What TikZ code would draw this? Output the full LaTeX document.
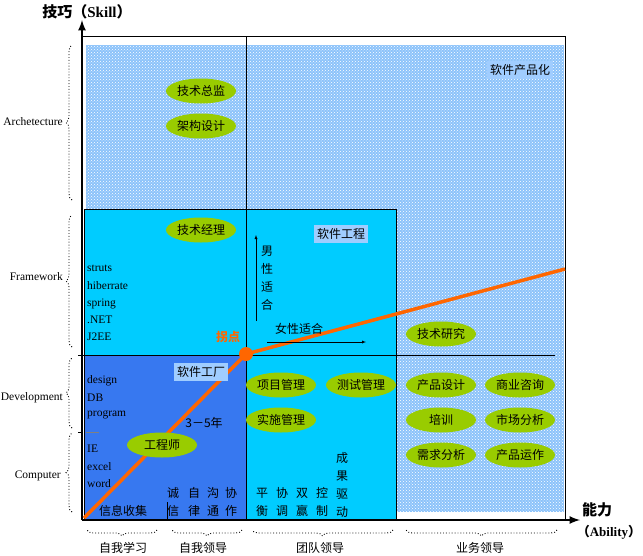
\documentclass[tikz,border=0pt]{standalone}
\usepackage{fontspec}
\setmainfont{Liberation Serif}
\newfontfamily\cjk{Noto Sans CJK SC}
\usetikzlibrary{patterns,shapes.geometric,decorations.pathreplacing}
\definecolor{skyfill}{RGB}{140,195,250}
\definecolor{cyanfill}{RGB}{0,204,255}
\definecolor{deepfill}{RGB}{55,120,240}
\definecolor{leaf}{RGB}{153,204,0}
\definecolor{turnorange}{RGB}{255,102,0}
\definecolor{tagfill}{RGB}{160,205,255}
\begin{document}
\begin{tikzpicture}[x=1pt,y=-1pt,
  role/.style={ellipse,fill=leaf,minimum width=70pt,minimum height=25pt,inner sep=0pt,font=\cjk\fontsize{12}{12}\selectfont},
  tag/.style={fill=tagfill,minimum height=16pt,inner sep=3pt,font=\cjk\fontsize{12}{12}\selectfont},
  word/.style={anchor=west,inner sep=0pt,font=\fontsize{11.5}{11.5}\selectfont},
  han/.style={inner sep=0pt,align=center,font=\cjk\fontsize{12}{18}\selectfont},
  level/.style={anchor=east,inner sep=0pt,font=\fontsize{11.5}{11.5}\selectfont},
  grp/.style={decorate,decoration={brace,amplitude=6pt},dotted,line width=0.9pt}]
\useasboundingbox (0,0) rectangle (643,555);

\coordinate (O) at (82,520);
\coordinate (Ytop) at (82,20);
\coordinate (Xend) at (580,520);
\coordinate (K) at (246,354);
\coordinate (R) at (565,269);

% areas
\fill[skyfill] (86,45) rectangle (564,512);
\fill[pattern=crosshatch dots,pattern color=white] (86,45) rectangle (564,512);
\draw[fill=cyanfill] (84,209) rectangle (396,520);
\draw[fill=deepfill] (84,355) rectangle (246,520);
\draw (82,36) -- (565,36) -- (565,520);
\draw (246,36) -- (246,520);
\draw (82,355) -- (555,355);
\draw (167,502) -- (167,520);
\draw[gray] (86,432) -- (99,432);

% axes
\draw[line width=2.5pt,-latex] (O) -- (Ytop);
\draw[line width=2.5pt,-latex] (O) -- (Xend);
\draw[thick] (78,355) -- (82,355);
\draw[thick] (78,432) -- (82,432);

% turning line
\draw[turnorange,line width=3.5pt] (84,518) -- (K) -- (R);
\fill[turnorange] (K) circle (7pt);
\node[text=turnorange,font=\cjk\bfseries\fontsize{12}{12}\selectfont] (kname) at (228,337) {拐点};

% roles
\node[role] (zongjian) at (201,91) {技术总监};
\node[role] (jiagou) at (201,126) {架构设计};
\node[role] (jingli) at (201,230) {技术经理};
\node[role] (gcs) at (162,445) {工程师};
\node[role] (xiangmu) at (281,385) {项目管理};
\node[role] (ceshi) at (361,385) {测试管理};
\node[role] (shishi) at (281,420) {实施管理};
\node[role] (yanjiu) at (441,334) {技术研究};
\node[role] (sheji) at (441,385) {产品设计};
\node[role] (zixun) at (520,385) {商业咨询};
\node[role] (peixun) at (441,420) {培训};
\node[role] (shichang) at (520,420) {市场分析};
\node[role] (xuqiu) at (441,455) {需求分析};
\node[role] (yunzuo) at (520,455) {产品运作};

% tags
\node[tag] (chanpin) at (520,70) {软件产品化};
\node[tag] (gongcheng) at (341,234) {软件工程};
\node[tag] (gongchang) at (201,372) {软件工厂};

% skills
\node[word] (struts) at (87,268) {struts};
\node[word] (hib) at (87,286) {hiberrate};
\node[word] (spring) at (87,304) {spring};
\node[word] (net) at (87,320) {.NET};
\node[word] (jee) at (87,337) {J2EE};
\node[word] (design) at (87,381) {design};
\node[word] (db) at (87,398) {DB};
\node[word] (prog) at (87,415) {program};
\node[word] (ie) at (87,449) {IE};
\node[word] (excel) at (87,467) {excel};
\node[word] (wordd) at (87,484) {word};

% gender
\node[han] (nan) at (267,278) {男\\性\\适\\合};
\draw[-latex] (256,321) -- (256,235);
\node[han] (nv) at (299,329) {女性适合};
\draw[-latex] (267,342) -- (366,342);
\node[han] (years) at (204,423) {3－5年};

% bottom words
\node[han] (xinxi) at (123,511) {信息收集};
\foreach \x/\a/\b in {173/诚/信,194/自/律,213/沟/通,231/协/作,262/平/衡,282/协/调,302/双/赢,322/控/制}
  \node[han] (w\x) at (\x,502) {\a\\\b};
\node[han] (chengguo) at (342,485) {成\\果\\驱\\动};

% levels
\draw[grp] (72,200) -- (72,45);
\draw[grp] (72,347) -- (72,215);
\draw[grp] (72,428) -- (72,358);
\draw[grp] (72,512) -- (72,433);
\node[level] (arch) at (63,122) {Archetecture};
\node[level] (frame) at (63,277) {Framework};
\node[level] (dev) at (63,398) {Development};
\node[level] (comp) at (61,476) {Computer};

% stages
\draw[grp] (157,530) -- (87,530);
\draw[grp] (242,530) -- (172,530);
\draw[grp] (393,530) -- (252,530);
\draw[grp] (557,530) -- (406,530);
\node[han] (xuexi) at (123,548) {自我学习};
\node[han] (lingdao) at (203,548) {自我领导};
\node[han] (tuandui) at (320,548) {团队领导};
\node[han] (yewu) at (480,548) {业务领导};

% axis names
\node[font=\bfseries\fontsize{15}{15}\selectfont,inner sep=0pt] (skill) at (87,12) {{\cjk 技巧（}Skill{\cjk ）}};
\node[font=\cjk\bfseries\fontsize{15}{15}\selectfont,inner sep=0pt] (nengli) at (597,510) {能力};
\node[font=\bfseries\fontsize{13}{13}\selectfont,inner sep=0pt] (ability) at (609,532) {{\cjk （}Ability{\cjk ）}};
\end{tikzpicture}
\end{document}
